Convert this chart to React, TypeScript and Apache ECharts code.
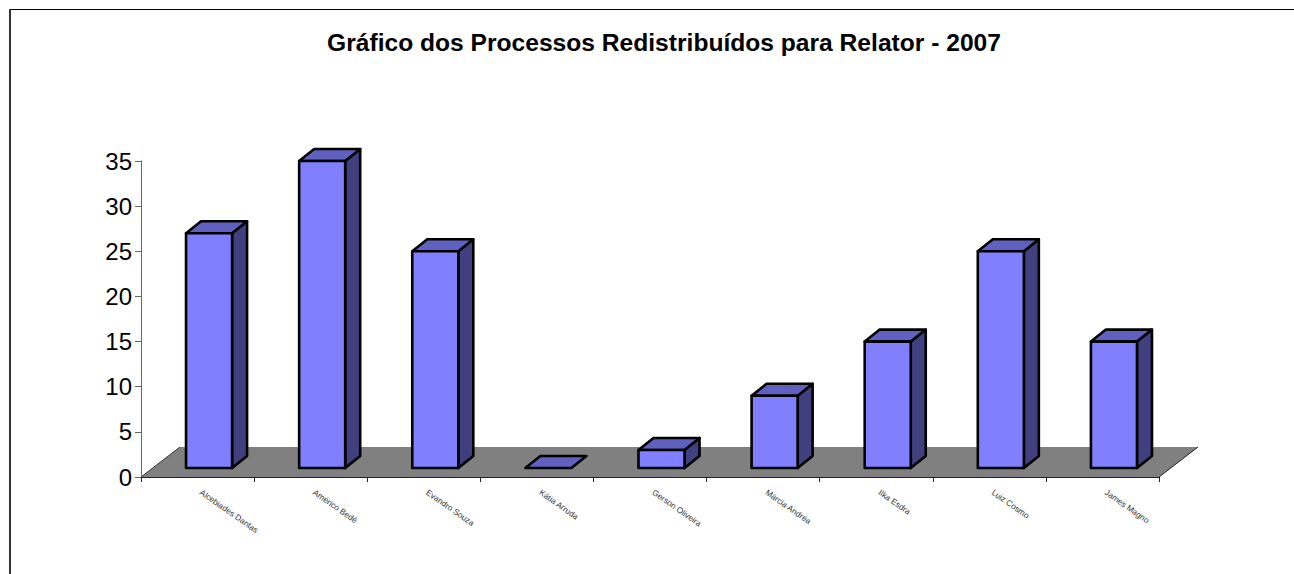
import React, { useEffect, useRef } from "react";
import * as echarts from "echarts";

const titleText = "Gráfico dos Processos Redistribuídos para Relator - 2007";
const categories = [
  "Alcebiades Dantas",
  "Américo Bedê",
  "Evandro Souza",
  "Kátia Arruda",
  "Gerson Oliveira",
  "Márcia Andréa",
  "Ilka Esdra",
  "Luiz Cosmo",
  "James Magno",
];
const values = [26, 34, 24, 0, 2, 8, 14, 24, 14];

const FRONT = "#8080ff";
const TOP = "#6060c0";
const SIDE = "#404080";
const FLOOR = "#808080";

export default function App() {
  const ref = useRef<HTMLDivElement>(null);
  useEffect(() => {
    document.body.style.margin = "0";
    const chart = echarts.init(ref.current!, null, { renderer: "svg" });
    chart.setOption({
      animation: false,
      backgroundColor: "#ffffff",
      title: {
        text: titleText,
        left: 659,
        top: 24.5,
        textAlign: "center",
        textStyle: { fontFamily: "Liberation Sans", fontWeight: "bold", fontSize: 24.6, color: "#000" },
      },
      graphic: [
        { type: "line", silent: true, shape: { x1: 9, y1: 9.5, x2: 1294, y2: 9.5 }, style: { stroke: "#000", lineWidth: 1 } },
        { type: "line", silent: true, shape: { x1: 10, y1: 9, x2: 10, y2: 574 }, style: { stroke: "#333", lineWidth: 2 } },
      ],
      grid: { left: 141, top: 161, width: 1018, height: 316, containLabel: false },
      xAxis: {
        type: "category",
        data: categories,
        boundaryGap: true,
        z: 5,
        axisLine: { show: true, lineStyle: { color: "#222", width: 1 } },
        axisTick: { show: true, length: 5, alignWithLabel: false, interval: 0, lineStyle: { color: "#222" } },
        axisLabel: {
          interval: 0,
          rotate: -35,
          margin: 12,
          padding: [1, 0, 0, 4],
          fontFamily: "Liberation Sans",
          fontSize: 8.3,
          color: "#333",
        },
      },
      yAxis: {
        type: "value",
        min: 0,
        max: 35,
        interval: 5,
        z: 5,
        splitLine: { show: false },
        axisLine: { show: true, lineStyle: { color: "#666", width: 1 } },
        axisTick: { show: true, length: 6, lineStyle: { color: "#666" } },
        axisLabel: { margin: 9, fontFamily: "Liberation Sans", fontSize: 24, color: "#000" },
      },
      series: [
        {
          type: "custom",
          z: 1,
          data: [[0, 0]],
          silent: true,
          renderItem: (params: any, api: any) => {
            const c = params.coordSys;
            const by = c.y + c.height;
            const pts = [
              [c.x, by],
              [c.x + 39, by - 30],
              [c.x + c.width + 39, by - 30],
              [c.x + c.width, by],
            ];
            return {
              type: "group",
              children: [
                { type: "polygon", shape: { points: pts }, style: { fill: FLOOR, stroke: "none" } },
                { type: "polyline", shape: { points: [pts[0], pts[1]] }, style: { fill: "none", stroke: "#333", lineWidth: 1 } },
                { type: "polyline", shape: { points: [pts[2], pts[3]] }, style: { fill: "none", stroke: "#222", lineWidth: 1 } },
              ],
            };
          },
        },
        {
          type: "custom",
          z: 3,
          data: categories.map((_, i) => [i, values[i]]),
          encode: { x: 0, y: 1 },
          silent: true,
          renderItem: (params: any, api: any) => {
            const p = api.coord([api.value(0), api.value(1)]);
            const p0 = api.coord([api.value(0), 0]);
            const w = api.size([1, 0])[0] * 0.407;
            const x0 = p[0] + 11.5 - w / 2;
            const x1 = x0 + w;
            const yt = p[1] - 9;
            const yb = p0[1] - 9;
            const dx = 15;
            const dy = -12;
            const st = { stroke: "#000", lineWidth: 2.6, lineJoin: "round" };
            const children: any[] = [];
            if (yb - yt > 0.5) {
              children.push({
                type: "polygon",
                shape: { points: [[x1, yt], [x1 + dx, yt + dy], [x1 + dx, yb + dy], [x1, yb]] },
                style: { fill: SIDE, ...st },
              });
            }
            children.push({
              type: "polygon",
              shape: { points: [[x0, yt], [x0 + dx, yt + dy], [x1 + dx, yt + dy], [x1, yt]] },
              style: { fill: TOP, ...st },
            });
            if (yb - yt > 0.5) {
              children.push({
                type: "polygon",
                shape: { points: [[x0, yt], [x1, yt], [x1, yb], [x0, yb]] },
                style: { fill: FRONT, ...st },
              });
            }
            return { type: "group", children };
          },
        },
      ],
    });
    return () => chart.dispose();
  }, []);
  return <div ref={ref} style={{ width: 1294, height: 574 }} />;
}
